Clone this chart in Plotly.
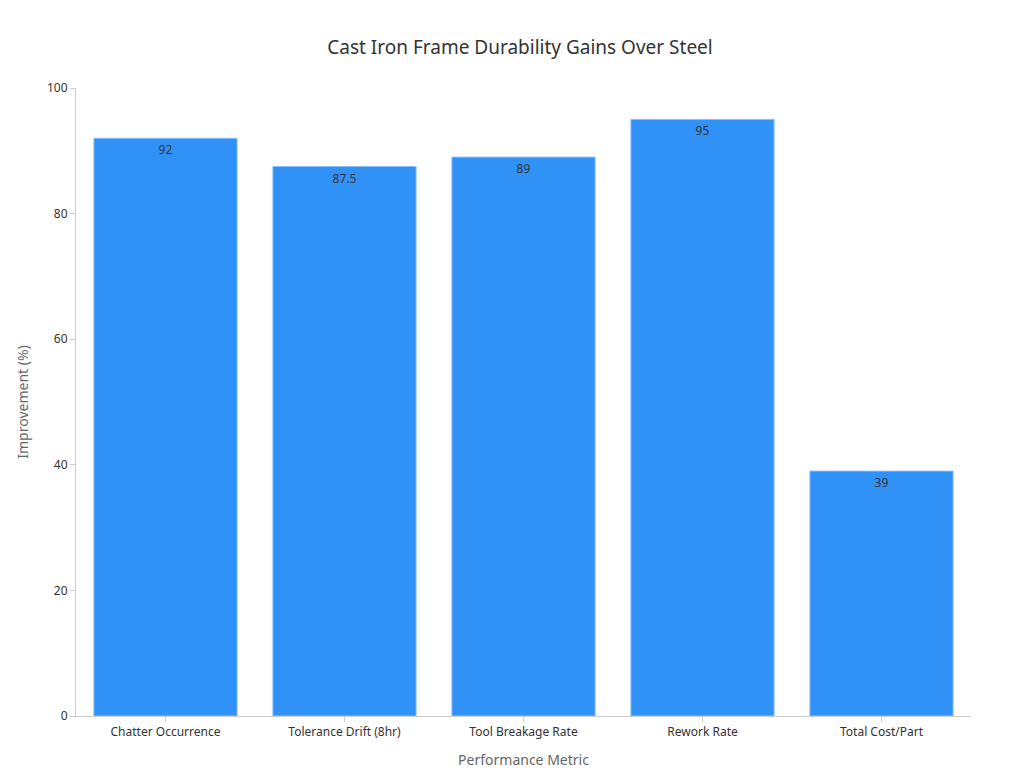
import plotly.graph_objects as go

metrics = ["Chatter Occurrence", "Tolerance Drift (8hr)", "Tool Breakage Rate", "Rework Rate", "Total Cost/Part"]
improvement = [92, 87.5, 89, 95, 39]

fig = go.Figure(go.Bar(
    x=metrics, y=improvement,
    text=[str(v) for v in improvement], textposition="inside", insidetextanchor="end",
    textfont=dict(color="#333333", size=12),
    marker=dict(color="#3092F7", line=dict(color="#8cc0f7", width=1)),
    width=0.8,
))
fig.update_layout(
    width=1024, height=768,
    title=dict(text="Cast Iron Frame Durability Gains Over Steel", x=0.5, y=0.957,
               font=dict(size=19, color="#333333")),
    font=dict(family="Noto Sans, DejaVu Sans, sans-serif", color="#333333", size=12),
    plot_bgcolor="white", paper_bgcolor="white",
    margin=dict(l=68, r=61, t=80, b=60),
    showlegend=False,
)
fig.update_xaxes(title=dict(text="Performance Metric", font=dict(size=14, color="#666666")),
                 showline=True, linecolor="#cccccc", ticks="outside", tickcolor="#cccccc",
                 ticklen=5, showgrid=False)
fig.update_yaxes(title=dict(text="Improvement (%)", font=dict(size=14, color="#666666")),
                 range=[0, 100], dtick=20, showline=True, linecolor="#cccccc",
                 ticks="outside", tickcolor="#cccccc", ticklen=5, showgrid=False, zeroline=False)
fig.write_html("out.html")
